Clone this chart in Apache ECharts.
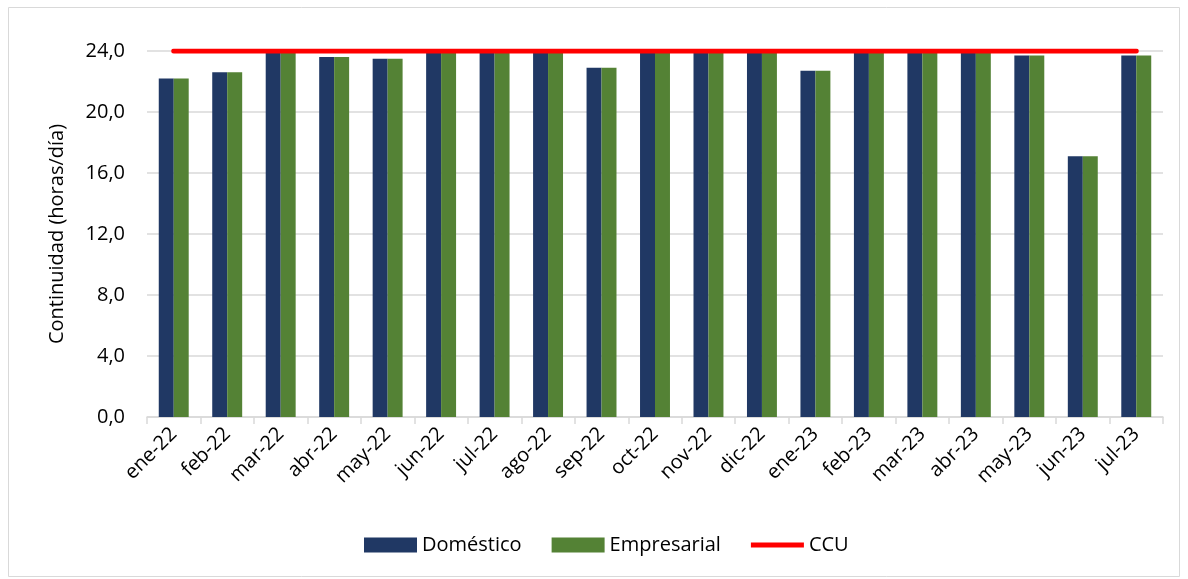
<!DOCTYPE html>
<html>
<head>
<meta charset="utf-8">
<script src="https://cdn.jsdelivr.net/npm/echarts@6/dist/echarts.min.js"></script>
<style>
    html, body { margin: 0; padding: 0; background: #fff; }
    #chart { width: 1188px; height: 579px; }
</style>
</head>
<body>
<div id="chart"></div>
<script>
var meses = ['ene-22', 'feb-22', 'mar-22', 'abr-22', 'may-22', 'jun-22', 'jul-22', 'ago-22', 'sep-22',
    'oct-22', 'nov-22', 'dic-22', 'ene-23', 'feb-23', 'mar-23', 'abr-23', 'may-23', 'jun-23', 'jul-23'];
var domestico = [22.2, 22.6, 24.0, 23.6, 23.5, 24.0, 24.0, 24.0, 22.9,
    24.0, 24.0, 24.0, 22.7, 24.0, 24.0, 24.0, 23.7, 17.1, 23.7];
var empresarial = [22.2, 22.6, 24.0, 23.6, 23.5, 24.0, 24.0, 24.0, 22.9,
    24.0, 24.0, 24.0, 22.7, 24.0, 24.0, 24.0, 23.7, 17.1, 23.7];
var ccu = [24, 24, 24, 24, 24, 24, 24, 24, 24, 24, 24, 24, 24, 24, 24, 24, 24, 24, 24];
var yTicks = [0, 4, 8, 12, 16, 20, 24];

var fuente = '"Open Sans", "Noto Sans", sans-serif';
var chart = echarts.init(document.getElementById('chart'));
var option = {
    animation: false,
    textStyle: { fontFamily: fuente },
    graphic: [{
        type: 'rect',
        shape: { x: 8.5, y: 7.5, width: 1171, height: 569 },
        style: { fill: 'none', stroke: '#d9d9d9', lineWidth: 1 },
        silent: true
    }],
    grid: {
        left: 147,
        right: 25,
        top: 51,
        bottom: 162,
        outerBoundsMode: 'none'
    },
    legend: {
        left: 359,
        top: 530,
        itemWidth: 53,
        itemHeight: 15,
        itemGap: 30,
        textStyle: { fontSize: 20, color: '#000', fontFamily: fuente },
        data: [
            { name: 'Doméstico', icon: 'rect' },
            { name: 'Empresarial', icon: 'rect' },
            { name: 'CCU', icon: 'path://M0,0 L53,0 L53,5 L0,5 Z' }
        ]
    },
    xAxis: {
        type: 'category',
        data: meses,
        axisLine: { lineStyle: { color: '#d9d9d9', width: 1.5 } },
        axisTick: { show: true, length: 7, lineStyle: { color: '#d9d9d9', width: 1.5 } },
        axisLabel: {
            rotate: 45,
            margin: 14,
            fontSize: 20,
            color: '#000',
            interval: 0,
            fontFamily: fuente
        }
    },
    yAxis: {
        type: 'value',
        min: yTicks[0],
        max: yTicks[yTicks.length - 1],
        interval: 4,
        name: 'Continuidad (horas/día)',
        nameLocation: 'middle',
        nameGap: 80,
        nameTextStyle: { fontSize: 20, color: '#000', fontFamily: fuente },
        axisLine: { show: false },
        axisTick: { show: false },
        splitLine: { lineStyle: { color: '#d9d9d9', width: 1.5 } },
        axisLabel: {
            margin: 22,
            fontSize: 20,
            color: '#000',
            fontFamily: fuente,
            formatter: function (v) {
                return v.toFixed(1).replace('.', ',');
            }
        }
    },
    series: [
        {
            name: 'Doméstico',
            type: 'bar',
            data: domestico,
            barGap: '0%',
            barCategoryGap: '44%',
            itemStyle: { color: '#203864' }
        },
        {
            name: 'Empresarial',
            type: 'bar',
            data: empresarial,
            itemStyle: { color: '#548235' }
        },
        {
            name: 'CCU',
            type: 'line',
            data: ccu,
            symbol: 'none',
            z: 5,
            itemStyle: { color: '#ff0000' },
            lineStyle: { color: '#ff0000', width: 5, cap: 'round' }
        }
    ]
};
chart.setOption(option);
</script>
</body>
</html>
